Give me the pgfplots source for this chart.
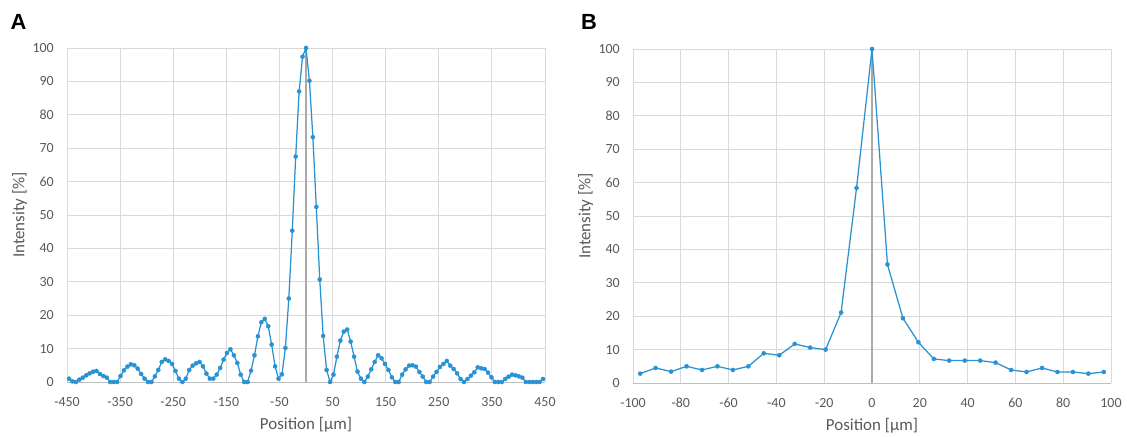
\documentclass[border=0pt]{standalone}
\usepackage{pgfplots}
\pgfplotsset{compat=1.18}
\usepackage{fontspec}
\setmainfont{Carlito}
\newfontfamily\arialf{Liberation Sans}
\definecolor{xlblue}{RGB}{41,146,210}
\definecolor{txtgray}{RGB}{89,89,89}
\definecolor{gridgray}{RGB}{217,217,217}
\definecolor{axgray}{RGB}{170,170,170}
\definecolor{baseaxgray}{RGB}{191,191,191}

\pgfplotsset{
  panel/.style={
    scale only axis, width=478bp, height=334bp,
    ymin=0, ymax=100, ytick={0,10,...,100},
    yticklabels={0,10,20,30,40,50,60,70,80,90,100},
    axis line style={draw=none},
    major tick length=0pt,
    grid=major,
    major grid style={gridgray, line width=0.9bp},
    tick label style={font=\fontsize{14}{16}\selectfont, text=txtgray},
    y tick label style={anchor=east, inner sep=0pt, xshift=-13bp},
    x tick label style={anchor=base, inner sep=0pt, yshift=-24bp},
    label style={font=\fontsize{17}{20}\selectfont, text=txtgray},
    xlabel={Position [µm]}, ylabel={Intensity [\%]},
    x label style={at={(axis description cs:0.5,-0.129)}, anchor=center},
    y label style={at={(axis description cs:-0.099,0.5)}, anchor=center},
    clip=false,
  },
  series/.style={xlblue, line width=1.25bp, mark=*, mark size=2.1bp,
    mark options={fill=xlblue, draw=xlblue, line width=0.3bp}},
}

\begin{document}
\begin{tikzpicture}
\useasboundingbox (0,0) rectangle (1127bp,437bp);

\node[font=\arialf\bfseries\fontsize{22}{24}\selectfont, anchor=base west, inner sep=0pt] at (10.5bp,407bp) {A};
\node[font=\arialf\bfseries\fontsize{22}{24}\selectfont, anchor=base west, inner sep=0pt] at (581bp,407bp) {B};

\begin{axis}[panel, at={(67bp,55bp)}, anchor=south west,
  xmin=-450, xmax=450, xtick={-450,-350,...,450},
  xticklabels={-450,-350,-250,-150,-50,50,150,250,350,450}]
\draw[baseaxgray, line width=1bp] (axis cs:-450,0) -- (axis cs:450,0);
\draw[axgray, line width=1.3bp] (axis cs:0,0) -- (axis cs:0,100);
\addplot[series] table {
x y
-446.20 1.0
-439.73 0.2
-433.27 0
-426.80 0.7
-420.33 1.3
-413.87 2.0
-407.40 2.6
-400.93 3.1
-394.47 3.3
-388.00 2.4
-381.53 1.8
-375.07 1.3
-368.60 0
-362.13 0
-355.67 0
-349.20 1.8
-342.73 3.5
-336.27 4.6
-329.80 5.3
-323.33 5.0
-316.87 4.0
-310.40 2.4
-303.93 1.0
-297.47 0
-291.00 0
-284.53 1.7
-278.07 3.6
-271.60 6.0
-265.13 6.8
-258.67 6.3
-252.20 5.4
-245.73 3.3
-239.27 1.0
-232.80 0
-226.33 1.0
-219.87 3.6
-213.40 4.9
-206.93 5.6
-200.47 6.0
-194.00 4.7
-187.53 2.5
-181.07 1.0
-174.60 1.0
-168.13 2.2
-161.67 4.2
-155.20 6.7
-148.73 8.7
-142.27 9.8
-135.80 8.0
-129.33 5.7
-122.87 2.2
-116.40 0
-109.93 0
-103.47 3.4
-97.00 8.0
-90.53 13.7
-84.07 17.9
-77.60 18.9
-71.13 16.7
-64.67 11.2
-58.20 4.7
-51.73 1.0
-45.27 2.3
-38.80 10.2
-32.33 25.0
-25.87 45.3
-19.40 67.5
-12.93 87.0
-6.47 97.4
0 100
6.47 90.2
12.93 73.3
19.40 52.4
25.87 30.7
32.33 13.8
38.80 3.6
45.27 0
51.73 2.2
58.20 7.6
64.67 12.4
71.13 15.1
77.60 15.7
84.07 12.1
90.53 7.6
97.00 3.1
103.47 1.0
109.93 0
116.40 1.6
122.87 3.8
129.33 6.0
135.80 8.0
142.27 7.1
148.73 5.4
155.20 3.6
161.67 1.4
168.13 0
174.60 0
181.07 2.2
187.53 3.8
194.00 4.9
200.47 5.0
206.93 4.6
213.40 3.0
219.87 1.6
226.33 0
232.80 0
239.27 1.6
245.73 3.0
252.20 4.5
258.67 5.4
265.13 6.3
271.60 4.9
278.07 3.9
284.53 2.6
291.00 0.9
297.47 0
303.93 0.9
310.40 1.9
316.87 2.9
323.33 4.4
329.80 4.1
336.27 3.9
342.73 2.8
349.20 1.4
355.67 0
362.13 0
368.60 0
375.07 0.9
381.53 1.6
388.00 2.2
394.47 2.0
400.93 1.7
407.40 1.3
413.87 0
420.33 0
426.80 0
433.27 0
439.73 0
446.20 0.9
};
\end{axis}

\begin{axis}[panel, at={(633bp,54bp)}, anchor=south west,
  xmin=-100, xmax=100, xtick={-100,-80,...,100},
  xticklabels={-100,-80,-60,-40,-20,0,20,40,60,80,100}]
\draw[baseaxgray, line width=1bp] (axis cs:-100,0) -- (axis cs:100,0);
\draw[axgray, line width=1.3bp] (axis cs:0,0) -- (axis cs:0,100);
\addplot[series] table {
x y
-97.00 2.8
-90.53 4.5
-84.07 3.4
-77.60 5.0
-71.13 3.9
-64.67 5.0
-58.20 3.9
-51.73 5.0
-45.27 8.9
-38.80 8.3
-32.33 11.7
-25.87 10.6
-19.40 10.0
-12.93 21.1
-6.47 58.4
0 100
6.47 35.5
12.93 19.4
19.40 12.2
25.87 7.2
32.33 6.7
38.80 6.7
45.27 6.7
51.73 6.1
58.20 3.9
64.67 3.3
71.13 4.5
77.60 3.3
84.07 3.3
90.53 2.8
97.00 3.3
};
\end{axis}
\end{tikzpicture}
\end{document}
